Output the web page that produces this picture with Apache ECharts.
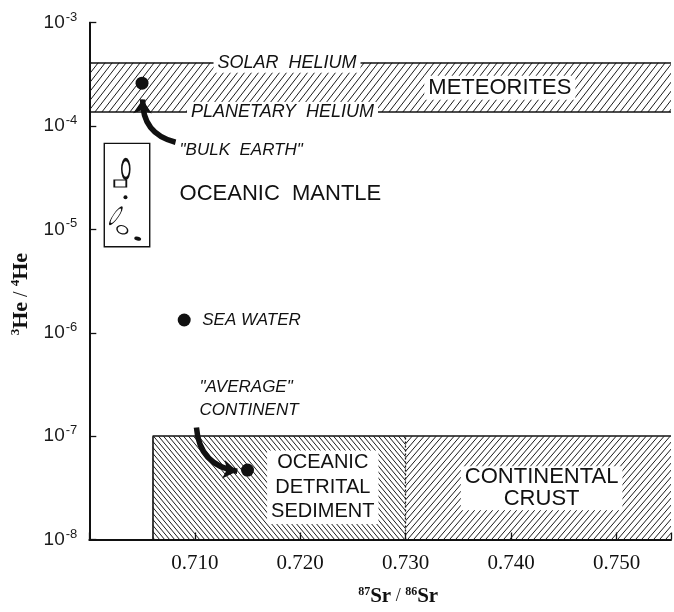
<!DOCTYPE html>
<html>
<head>
<meta charset="utf-8">
<script src="https://cdn.jsdelivr.net/npm/echarts@6/dist/echarts.min.js"></script>
<style>html,body{margin:0;padding:0;background:#fff}#c{width:674px;height:612px}</style>
</head>
<body>
<div id="c"></div>
<script>
// ---------- data ----------
const xTickLabels = ['0.710', '0.720', '0.730', '0.740', '0.750'];
const yTickExponents = [-8, -7, -6, -5, -4, -3];
const xRange = [0.700, 0.75516];
const yRange = [1e-8, 1e-3];

const meteoriteBand = [1.365e-4, 4.1e-4];      // planetary helium, solar helium
const sedimentSr = [0.706, 0.730];             // sediment left edge, sediment/crust divide
const lowerBandHe = [1e-8, 1e-7];

const sampleNames = ['Bulk Earth', 'Sea water', 'Average continent'];
const sampleSr = [0.705, 0.709, 0.715];
const sampleHe = [2.6e-4, 1.33e-6, 4.7e-8];

const mantleBoxSr = [0.70142, 0.70573];
const mantleBoxHe = [6.8e-6, 6.8e-5];
const mantleFieldSr = [0.70346, 0.70294, 0.70343, 0.70252, 0.70313, 0.70459];
const mantleFieldHe = [3.84e-5, 2.78e-5, 2.05e-5, 1.355e-5, 9.93e-6, 8.15e-6];

const labelTexts = ['SOLAR  HELIUM', 'PLANETARY  HELIUM', 'METEORITES', '"BULK  EARTH"', 'OCEANIC  MANTLE',
  'SEA WATER', '"AVERAGE"\nCONTINENT', 'OCEANIC\nDETRITAL\nSEDIMENT', 'CONTINENTAL\nCRUST'];
const labelSr = [0.71875, 0.71832, 0.73893, 0.70856, 0.70856, 0.71071, 0.71044, 0.72214, 0.74289];
const labelHe = [4.1e-4, 1.365e-4, 2.35e-4, 5.83e-5, 2.2e-5, 1.33e-6, 2.28e-7, 3.2e-8, 3.14e-8];

const arrowBulkSr = [0.70818, 0.70506];
const arrowBulkHe = [6.97e-5, 1.81e-4];
const arrowAvgSr = [0.71016, 0.71403];
const arrowAvgHe = [1.21e-7, 4.57e-8];

// ---------- styling helpers ----------
const INK = '#111';
function hatch(w, h, dir, lw) {
  const c = document.createElement('canvas');
  c.width = w; c.height = h;
  const g = c.getContext('2d');
  g.strokeStyle = '#1a1a1a'; g.lineWidth = lw;
  g.beginPath();
  for (const k of [-1, 0, 1]) {
    if (dir === '/') { g.moveTo(k * w, h); g.lineTo(k * w + w, 0); }
    else { g.moveTo(k * w, 0); g.lineTo(k * w + w, h); }
  }
  g.stroke();
  return { image: c, repeat: 'repeat' };
}

const labelStyles = [
  { italic: true, size: 18, align: 'center', bg: true },
  { italic: true, size: 18, align: 'center', bg: true },
  { italic: false, size: 22, align: 'center', bg: true },
  { italic: true, size: 17, align: 'left', bg: false },
  { italic: false, size: 22, align: 'left', bg: false },
  { italic: true, size: 17, align: 'left', bg: false },
  { italic: true, size: 17, align: 'left', bg: false, lh: 23 },
  { italic: false, size: 20, align: 'center', bg: true, lh: 24.5 },
  { italic: false, size: 22, align: 'center', bg: true, lh: 22 }
];

const mantleShapes = [
  { symbol: 'circle', size: [8, 19], rotate: 0, fill: '#fff', bw: 2.4 },
  { symbol: 'rect', size: [12, 7], rotate: 0, fill: '#fff', bw: 1.4 },
  { symbol: 'circle', size: [4, 4], rotate: 0, fill: INK, bw: 0 },
  { symbol: 'circle', size: [5, 20], rotate: -35, fill: '#fff', bw: 1.3 },
  { symbol: 'circle', size: [11, 8], rotate: -20, fill: '#fff', bw: 1.3 },
  { symbol: 'circle', size: [7, 4], rotate: -15, fill: INK, bw: 0 }
];

const textItems = labelTexts.map((t, i) => {
  const s = labelStyles[i];
  return {
    value: [labelSr[i], labelHe[i]],
    label: {
      show: true,
      formatter: t,
      position: s.align === 'left' ? 'right' : 'inside',
      distance: 0,
      align: s.align,
      verticalAlign: 'middle',
      fontFamily: 'Liberation Sans',
      fontStyle: s.italic ? 'italic' : 'normal',
      fontSize: s.size,
      lineHeight: s.lh || s.size + 2,
      color: INK,
      opacity: 1,
      backgroundColor: s.bg ? '#fff' : 'transparent',
      padding: s.bg ? [0, 4] : 0
    }
  };
});

const mantleItems = mantleFieldSr.map((x, i) => {
  const s = mantleShapes[i];
  return {
    value: [x, mantleFieldHe[i]],
    symbol: s.symbol, symbolSize: s.size, symbolRotate: s.rotate,
    itemStyle: { color: s.fill, borderColor: INK, borderWidth: s.bw, opacity: 1 }
  };
});

const option = {
  animation: false,
  backgroundColor: '#fff',
  grid: { left: 89.3, right: 0, top: 22.7, bottom: 69.3 },
  xAxis: {
    type: 'value', min: xRange[0], max: xRange[1], interval: 0.01,
    axisLine: { lineStyle: { color: INK, width: 2 } },
    axisTick: { inside: true, length: 7, lineStyle: { color: INK, width: 1.3 } },
    splitLine: { show: false },
    axisLabel: {
      formatter: v => { const s = v.toFixed(3); return xTickLabels.includes(s) ? s : ''; },
      margin: 13, fontFamily: 'Liberation Serif', fontSize: 21, color: INK
    },
    name: '{s|87}{m|Sr}{n| / }{s|86}{m|Sr}',
    nameLocation: 'middle', nameGap: 46,
    nameTextStyle: {
      padding: [0, 0, 0, 36],
      rich: {
        s: { fontFamily: 'Liberation Serif', fontSize: 12, fontWeight: 'bold', verticalAlign: 'top', color: INK },
        m: { fontFamily: 'Liberation Serif', fontSize: 21, fontWeight: 'bold', color: INK, lineHeight: 22 },
        n: { fontFamily: 'Liberation Serif', fontSize: 18, color: INK }
      }
    }
  },
  yAxis: {
    type: 'log', logBase: 10, min: yRange[0], max: yRange[1],
    axisLine: { lineStyle: { color: INK, width: 2 } },
    axisTick: { inside: true, length: 7, lineStyle: { color: INK, width: 1.3 } },
    splitLine: { show: false }, minorTick: { show: false },
    axisLabel: {
      margin: 12,
      formatter: v => { const e = Math.round(Math.log10(v)); return yTickExponents.includes(e) ? '{a|10}{b|' + e + '}' : ''; },
      rich: {
        a: { fontFamily: 'Liberation Sans', fontSize: 19, color: '#1a1a1a', lineHeight: 24 },
        b: { fontFamily: 'Liberation Sans', fontSize: 13, color: '#1a1a1a', verticalAlign: 'top', padding: [0, 0, 0, 1] }
      }
    },
    name: '{s|3}{m|He}{n| / }{s|4}{m|He}',
    nameLocation: 'middle', nameGap: 56,
    nameTextStyle: {
      padding: [0, 26, 0, 0],
      rich: {
        s: { fontFamily: 'Liberation Serif', fontSize: 13, fontWeight: 'bold', verticalAlign: 'top', color: INK },
        m: { fontFamily: 'Liberation Serif', fontSize: 22, fontWeight: 'bold', color: INK, lineHeight: 24 },
        n: { fontFamily: 'Liberation Serif', fontSize: 20, color: INK }
      }
    }
  },
  series: [
    {
      name: 'regions', type: 'scatter', data: [], z: 1, silent: true,
      markArea: {
        silent: true,
        label: { show: false },
        data: [
          [{ coord: [xRange[0], meteoriteBand[0]], itemStyle: { color: hatch(7, 9, '/', 1), opacity: 1 } },
           { coord: [xRange[1], meteoriteBand[1]] }],
          [{ coord: [sedimentSr[0], lowerBandHe[0]], itemStyle: { color: hatch(5, 6, '\\', 1), opacity: 1 } },
           { coord: [sedimentSr[1], lowerBandHe[1]] }],
          [{ coord: [sedimentSr[1], lowerBandHe[0]], itemStyle: { color: hatch(6, 7, '/', 1), opacity: 1 } },
           { coord: [xRange[1], lowerBandHe[1]] }],
          [{ coord: [mantleBoxSr[0], mantleBoxHe[0]], itemStyle: { color: 'rgba(0,0,0,0)', borderColor: INK, borderWidth: 1.4, opacity: 1 } },
           { coord: [mantleBoxSr[1], mantleBoxHe[1]] }]
        ]
      },
      markLine: {
        silent: true, symbol: ['none', 'none'], label: { show: false },
        lineStyle: { color: INK, width: 1.6, type: 'solid', opacity: 1 },
        data: [
          [{ coord: [xRange[0], meteoriteBand[1]] }, { coord: [xRange[1], meteoriteBand[1]] }],
          [{ coord: [xRange[0], meteoriteBand[0]] }, { coord: [xRange[1], meteoriteBand[0]] }],
          [{ coord: [sedimentSr[0], lowerBandHe[1]] }, { coord: [xRange[1], lowerBandHe[1]] }],
          [{ coord: [sedimentSr[0], lowerBandHe[0]] }, { coord: [sedimentSr[0], lowerBandHe[1]] }],
          [{ coord: [sedimentSr[1], lowerBandHe[0]], lineStyle: { type: [2, 2], width: 1.3 } },
           { coord: [sedimentSr[1], lowerBandHe[1]] }]
        ]
      }
    },
    {
      name: 'mantle fields', type: 'scatter', z: 3, data: mantleItems
    },
    {
      name: 'arrows', type: 'lines', coordinateSystem: 'cartesian2d', z: 4,
      symbol: ['none', 'arrow'], symbolSize: 14,
      lineStyle: { color: INK, width: 5.5, opacity: 1 },
      data: [
        { coords: [[arrowBulkSr[0], arrowBulkHe[0]], [arrowBulkSr[1], arrowBulkHe[1]]], lineStyle: { curveness: 0.4 } },
        { coords: [[arrowAvgSr[0], arrowAvgHe[0]], [arrowAvgSr[1], arrowAvgHe[1]]], lineStyle: { curveness: -0.4 } }
      ]
    },
    {
      name: 'samples', type: 'scatter', z: 5, symbolSize: 13,
      itemStyle: { color: INK, opacity: 1 },
      data: sampleSr.map((x, i) => ({ name: sampleNames[i], value: [x, sampleHe[i]] }))
    },
    {
      name: 'texts', type: 'scatter', z: 6, symbolSize: 0, silent: true,
      itemStyle: { color: 'rgba(0,0,0,0)', opacity: 1 },
      data: textItems
    }
  ]
};

const chart = echarts.init(document.getElementById('c'), null, { renderer: 'canvas' });
chart.setOption(option);
</script>
</body>
</html>
